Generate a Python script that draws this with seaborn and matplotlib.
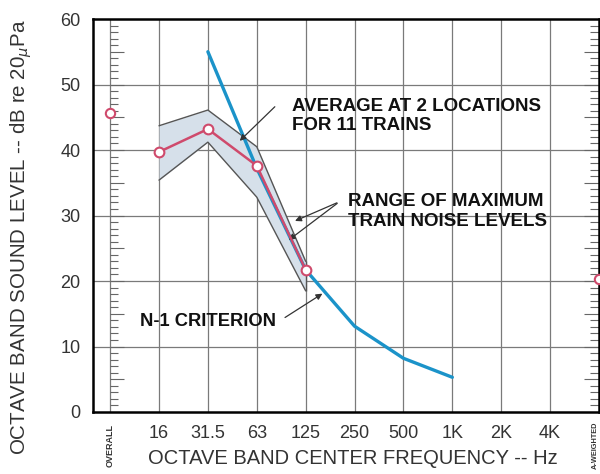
import seaborn as sns
import matplotlib.pyplot as plt
import pandas as pd
import numpy as np

# ---- data ----
bands = ["OVERALL", "16", "31.5", "63", "125", "250", "500", "1K", "2K", "4K", "A-WEIGHTED"]
avg_bands = ["16", "31.5", "63", "125"]
avg_levels = [39.7, 43.2, 37.6, 21.7]
range_upper = [43.7, 46.1, 40.5, 23.0]
range_lower = [35.4, 41.2, 32.8, 18.5]
crit_bands = ["31.5", "63", "125", "250", "500", "1K"]
crit_levels = [55.0, 37.2, 21.7, 13.1, 8.2, 5.3]
single_bands = ["OVERALL", "A-WEIGHTED"]
single_levels = [45.6, 20.3]
y_ticks = [0, 10, 20, 30, 40, 50, 60]

pos = {b: i for i, b in enumerate(bands)}

avg_df = pd.DataFrame({"x": [pos[b] for b in avg_bands], "level": avg_levels,
                       "upper": range_upper, "lower": range_lower})
crit_df = pd.DataFrame({"x": [pos[b] for b in crit_bands], "level": crit_levels})
single_df = pd.DataFrame({"x": [pos[b] for b in single_bands], "level": single_levels})

sns.set_style("white")
plt.rcParams["font.family"] = ["Liberation Sans", "DejaVu Sans"]

PINK = "#cf4a6c"
BLUE = "#1b93c9"
GRID = "#7a7a7a"
TXT = "#333333"

fig = plt.figure(figsize=(6, 4.74), dpi=100)
ax = fig.add_axes([93 / 600, 1 - 412 / 474, 506 / 600, (412 - 19) / 474])

# grid
for v in y_ticks[1:-1]:
    ax.axhline(v, color=GRID, lw=0.9, zorder=0)
for i in range(0, 10):
    ax.axvline(i, color=GRID, lw=0.9, zorder=0)

# rulers at OVERALL and A-WEIGHTED
minor = np.arange(1, 60)
short = minor[minor % 5 != 0]
long_ = minor[minor % 5 == 0]
ax.hlines(short, 0, 0.16, color="#666666", lw=0.8, zorder=1)
ax.hlines(long_, 0, 0.29, color="#666666", lw=0.8, zorder=1)
ax.hlines(short, 10 - 0.18, 10, color="#666666", lw=0.8, zorder=1)
ax.hlines(long_, 10 - 0.31, 10, color="#666666", lw=0.8, zorder=1)

# range band
ax.fill_between(avg_df["x"], avg_df["lower"], avg_df["upper"], color="#d6e0ea", zorder=1, lw=0)
sns.lineplot(data=avg_df, x="x", y="upper", color="#555555", lw=1.0, ax=ax, zorder=2)
sns.lineplot(data=avg_df, x="x", y="lower", color="#555555", lw=1.0, ax=ax, zorder=2)
ax.vlines([avg_df["x"].iloc[-1]], avg_df["lower"].iloc[-1], avg_df["upper"].iloc[-1],
          color="#555555", lw=1.0, zorder=2)

# N-1 criterion
sns.lineplot(data=crit_df, x="x", y="level", color=BLUE, lw=2.4, ax=ax, zorder=3)

# average line
sns.lineplot(data=avg_df, x="x", y="level", color=PINK, lw=1.8, marker="o",
             markersize=7, markerfacecolor="white", markeredgecolor=PINK,
             markeredgewidth=1.5, ax=ax, zorder=4)
sns.scatterplot(data=single_df, x="x", y="level", s=45, color="white",
                edgecolor=PINK, linewidth=1.5, ax=ax, zorder=5, clip_on=False)

ax.set_xlim(-0.35, 10)
ax.set_ylim(0, 60)
ax.set_yticks(y_ticks)
ax.set_xticks(range(1, 10))
ax.set_xticklabels(bands[1:10])
ax.tick_params(axis="both", length=0, labelsize=13, labelcolor=TXT)
ax.tick_params(axis="x", pad=9)
ax.tick_params(axis="y", pad=9)

for s in ax.spines.values():
    s.set_visible(True)
    s.set_color("black")
    s.set_linewidth(1.8)

ax.set_xlabel("OCTAVE BAND CENTER FREQUENCY -- Hz", fontsize=14.5, color=TXT)
ax.set_ylabel("OCTAVE BAND SOUND LEVEL -- dB re 20$_{\\mu}$Pa", fontsize=14.8, color=TXT)
ax.xaxis.set_label_coords(0.513, -0.095)
ax.yaxis.set_label_coords(-0.117, 0.445)

# rotated end labels
ax.text(0, -1.9, "OVERALL", rotation=90, ha="center", va="top", fontsize=6.5,
        fontweight="bold", color=TXT, clip_on=False)
ax.text(9.92, -1.4, "A-WEIGHTED", rotation=90, ha="center", va="top", fontsize=5.3,
        fontweight="bold", color=TXT, clip_on=False)

# annotations
arrow = dict(arrowstyle="-|>", color="#333333", lw=0.9, mutation_scale=9)
ax.text(3.73, 48.0, "AVERAGE AT 2 LOCATIONS\nFOR 11 TRAINS", fontsize=13.5,
        fontweight="bold", ha="left", va="top", linespacing=1.2, color="#111111")
ax.annotate("", xy=(2.61, 41.1), xytext=(3.41, 46.9), arrowprops=arrow)

ax.text(4.86, 33.4, "RANGE OF MAXIMUM\nTRAIN NOISE LEVELS", fontsize=13.5,
        fontweight="bold", ha="left", va="top", linespacing=1.2, color="#111111")
ax.annotate("", xy=(3.73, 29.0), xytext=(4.69, 32.1), arrowprops=arrow)
ax.annotate("", xy=(3.61, 26.0), xytext=(4.69, 32.1), arrowprops=arrow)

ax.text(0.61, 13.8, "N-1 CRITERION", fontsize=13.2, fontweight="bold",
        ha="left", va="center", color="#111111")
ax.annotate("", xy=(4.39, 18.3), xytext=(3.53, 14.2), arrowprops=arrow)

fig.savefig("out.png", dpi=100)
